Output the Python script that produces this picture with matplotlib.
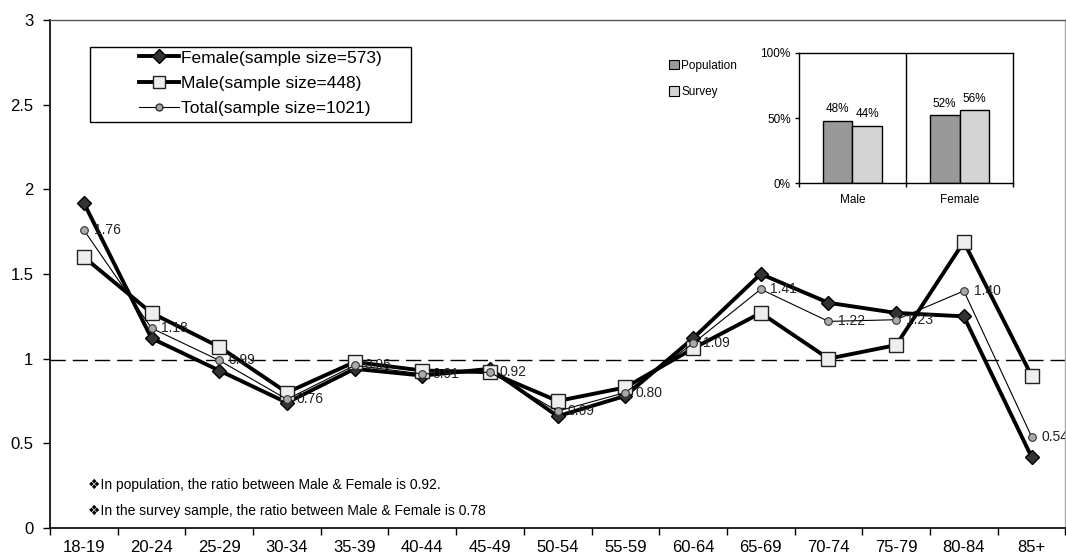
import matplotlib
matplotlib.use("Agg")
import matplotlib.pyplot as plt
from matplotlib.patches import Rectangle, Patch
from matplotlib.lines import Line2D

plt.rcParams["font.family"] = ["Liberation Sans", "DejaVu Sans"]

AGE_GROUPS = ["18-19", "20-24", "25-29", "30-34", "35-39", "40-44", "45-49",
              "50-54", "55-59", "60-64", "65-69", "70-74", "75-79", "80-84", "85+"]
FEMALE = [1.92, 1.12, 0.93, 0.74, 0.94, 0.90, 0.94, 0.66, 0.78, 1.12, 1.50, 1.33, 1.27, 1.25, 0.42]
MALE = [1.60, 1.27, 1.07, 0.80, 0.98, 0.93, 0.92, 0.75, 0.83, 1.06, 1.27, 1.00, 1.08, 1.69, 0.90]
TOTAL = [1.76, 1.18, 0.99, 0.76, 0.96, 0.91, 0.92, 0.69, 0.80, 1.09, 1.41, 1.22, 1.23, 1.40, 0.54]
REF_LINE = 0.99

Y_TICKS = [0, 0.5, 1, 1.5, 2, 2.5, 3]
Y_TICK_LABELS = ["0", "0.5", "1", "1.5", "2", "2.5", "3"]

LEGEND_LABELS = ["Female(sample size=573)", "Male(sample size=448)", "Total(sample size=1021)"]
NOTES = ["\u2756In population, the ratio between Male & Female is 0.92.",
         "\u2756In the survey sample, the ratio between Male & Female is 0.78"]

# inset: gender share
GENDERS = ["Male", "Female"]
POPULATION_PCT = [48, 52]
SURVEY_PCT = [44, 56]


def main():
    fig = plt.figure(figsize=(10.66, 5.59), dpi=100)
    ax = fig.add_axes([0.0469, 0.0555, 0.9525, 0.9087])

    x = list(range(len(AGE_GROUPS)))

    ax.axhline(REF_LINE, color="black", lw=1, ls=(0, (11, 5)), zorder=1)

    ax.plot(x, FEMALE, color="black", lw=2.8, marker="D", markersize=7.5,
            markerfacecolor="#333333", markeredgecolor="black", zorder=3)
    ax.plot(x, MALE, color="black", lw=2.8, marker="s", markersize=10,
            markerfacecolor="#eeeeee", markeredgecolor="#222222", markeredgewidth=1, zorder=4)
    ax.plot(x, TOTAL, color="black", lw=0.8, marker="o", markersize=5.5,
            markerfacecolor="#aaaaaa", markeredgecolor="#333333", markeredgewidth=0.8, zorder=5)

    for xi, v in zip(x, TOTAL):
        ax.annotate(f"{v:.2f}", (xi, v), xytext=(7, 0), textcoords="offset points",
                    va="center", ha="left", fontsize=10, color="#222222", zorder=6,
                    annotation_clip=False, clip_on=True)

    ax.set_xlim(-0.5, len(AGE_GROUPS) - 0.5)
    ax.set_ylim(0, 3)
    ax.set_xticks(x)
    ax.set_xticklabels(AGE_GROUPS, fontsize=12)
    ax.set_xticks([i - 0.5 for i in range(len(AGE_GROUPS) + 1)], minor=True)
    ax.tick_params(axis="x", which="major", length=0, pad=9)
    ax.tick_params(axis="x", which="minor", length=5, width=1, direction="out")
    ax.set_yticks(Y_TICKS)
    ax.set_yticklabels(Y_TICK_LABELS, fontsize=12)
    ax.tick_params(axis="y", length=5, width=1, direction="out", pad=7)

    for side in ["left", "bottom"]:
        ax.spines[side].set_linewidth(1.2)
        ax.spines[side].set_color("black")
    ax.spines["top"].set_color("#555555")
    ax.spines["top"].set_linewidth(1)
    ax.spines["right"].set_color("#aaaaaa")
    ax.spines["right"].set_linewidth(1)

    # legend with a hand drawn frame
    handles = [
        Line2D([], [], color="black", lw=2.8, marker="D", markersize=7,
               markerfacecolor="#333333", markeredgecolor="black"),
        Line2D([], [], color="black", lw=2.8, marker="s", markersize=9,
               markerfacecolor="#eeeeee", markeredgecolor="#222222"),
        Line2D([], [], color="black", lw=0.8, marker="o", markersize=5,
               markerfacecolor="#aaaaaa", markeredgecolor="#333333"),
    ]
    ax.legend(handles, LEGEND_LABELS, loc="upper left", bbox_to_anchor=(0.084, 0.947),
              frameon=False, fontsize=12.5, handlelength=2.3, handletextpad=0.15,
              labelspacing=0.58, borderpad=0.2, borderaxespad=0)
    ax.add_patch(Rectangle((0.039, 0.799), 0.317, 0.148, transform=ax.transAxes,
                           fill=False, edgecolor="black", lw=1, zorder=7))

    ax.text(0.037, 0.085, NOTES[0], transform=ax.transAxes, fontsize=10,
            va="center", ha="left")
    ax.text(0.037, 0.034, NOTES[1], transform=ax.transAxes, fontsize=10,
            va="center", ha="left")

    # inset bar chart
    ins = fig.add_axes([0.7495, 0.6726, 0.2008, 0.2326])
    gx = list(range(len(GENDERS)))
    w = 0.28
    b1 = ins.bar([g - w / 2 for g in gx], POPULATION_PCT, width=w, color="#999999",
                 edgecolor="black", lw=1)
    b2 = ins.bar([g + w / 2 for g in gx], SURVEY_PCT, width=w, color="#d4d4d4",
                 edgecolor="black", lw=1)
    for bars, vals in [(b1, POPULATION_PCT), (b2, SURVEY_PCT)]:
        for rect, v in zip(bars, vals):
            ins.annotate(f"{v}%", (rect.get_x() + rect.get_width() / 2, v),
                         xytext=(0, 4), textcoords="offset points",
                         ha="center", va="bottom", fontsize=8.5)
    ins.axvline(0.5, color="black", lw=1)
    ins.set_xlim(-0.5, 1.5)
    ins.set_ylim(0, 100)
    ins.set_yticks([0, 50, 100])
    ins.set_yticklabels(["0%", "50%", "100%"], fontsize=8.5)
    ins.set_xticks(gx)
    ins.set_xticklabels(GENDERS, fontsize=8.5)
    ins.set_xticks([-0.5, 0.5, 1.5], minor=True)
    ins.tick_params(axis="x", which="major", length=0, pad=8)
    ins.tick_params(axis="x", which="minor", length=3, width=1)
    ins.tick_params(axis="y", length=3, width=1, pad=3)
    for s in ins.spines.values():
        s.set_linewidth(1)
        s.set_color("black")

    fig.legend([Patch(facecolor="#999999", edgecolor="black", lw=0.8),
                Patch(facecolor="#d4d4d4", edgecolor="black", lw=0.8)],
               ["Population", "Survey"], loc="upper left",
               bbox_to_anchor=(0.6275, 0.893), frameon=False, fontsize=8.5,
               handlelength=0.85, handleheight=0.85, handletextpad=0.2,
               labelspacing=1.2, borderpad=0, borderaxespad=0)

    fig.savefig("out.png", dpi=100)


if __name__ == "__main__":
    main()
